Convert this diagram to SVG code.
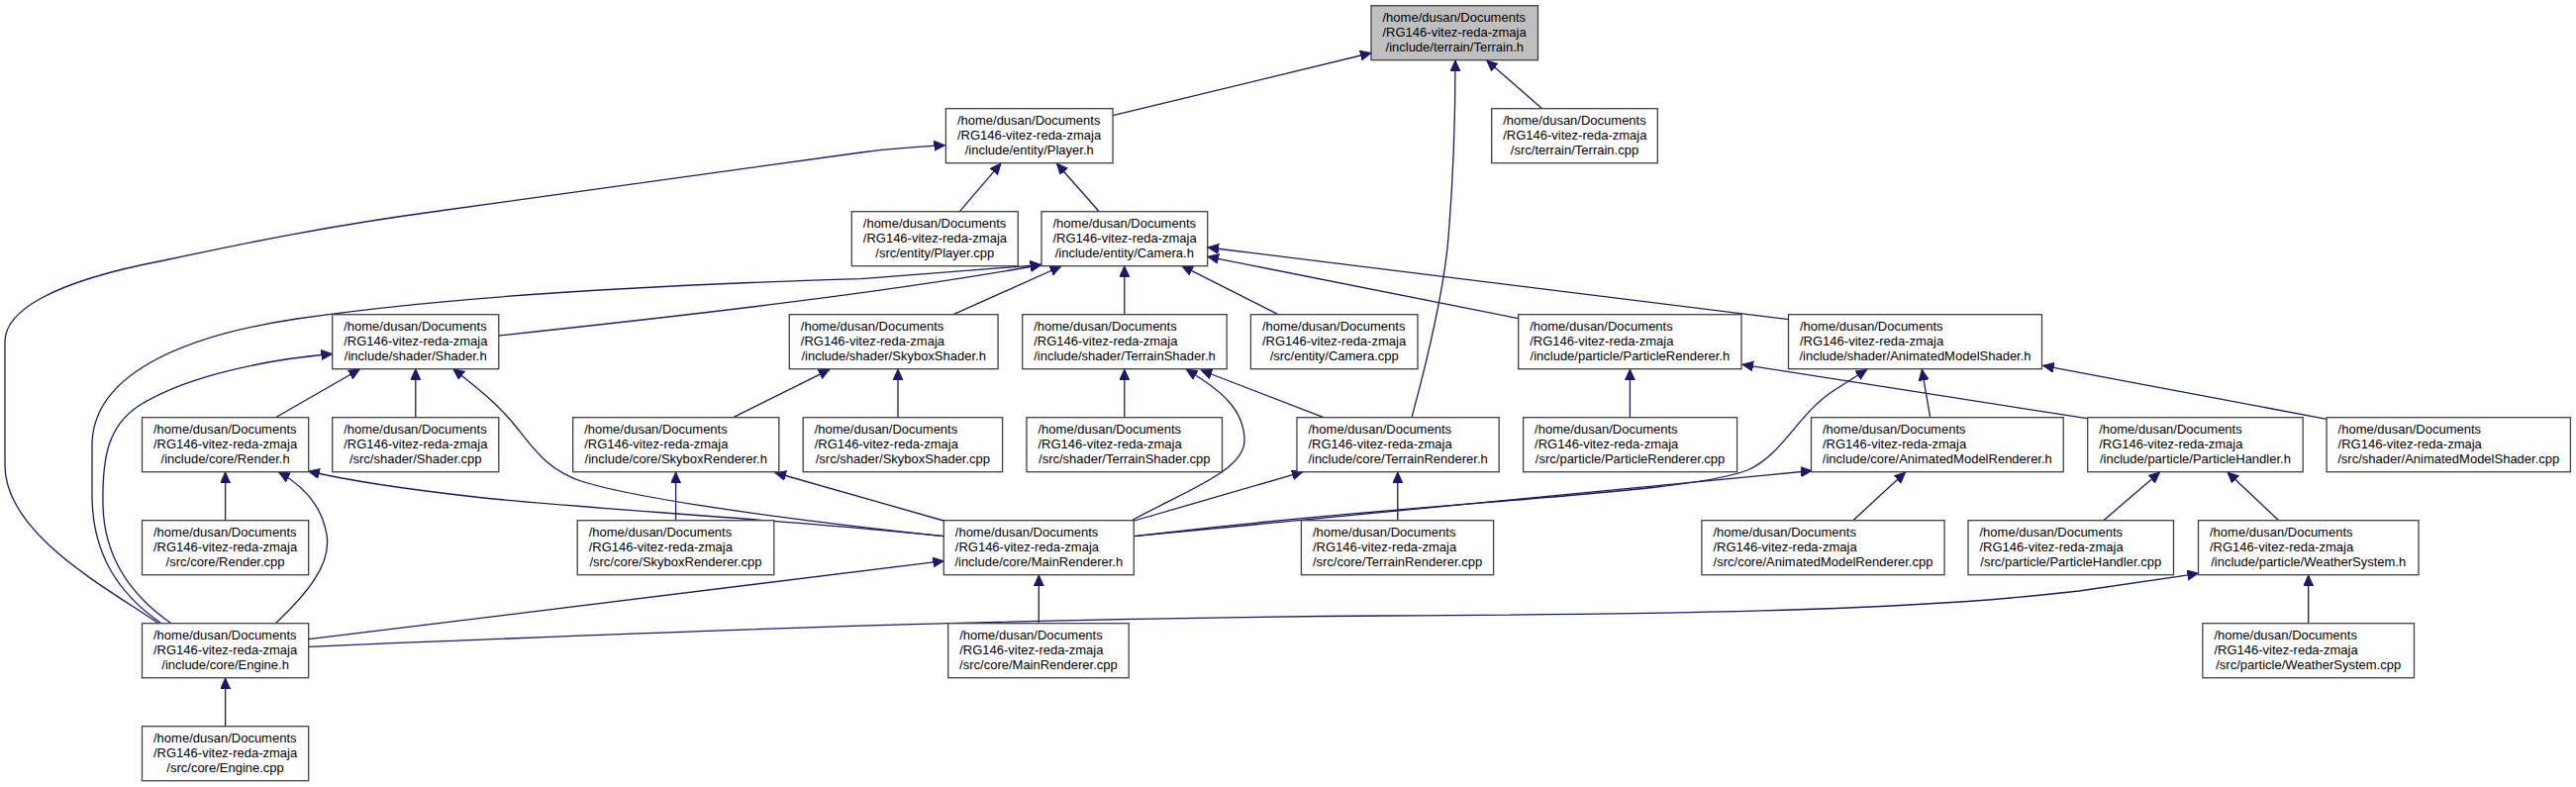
<svg xmlns="http://www.w3.org/2000/svg" width="2602" height="795" viewBox="0 0 2602 795">
<style>
.n rect{fill:#ffffff;stroke:#404040;stroke-width:1.3}
.n.root rect{fill:#bfbfbf}
.n text{font-family:"Liberation Sans",Arial,Helvetica,sans-serif;font-size:13px;fill:#000000}
.n text.c{text-anchor:middle}
#edges path{fill:none;stroke:#191970;stroke-width:1.3;marker-end:url(#ah)}
</style>
<defs>
<marker id="ah" markerUnits="userSpaceOnUse" markerWidth="12" markerHeight="11" refX="11" refY="5" orient="auto">
<path d="M0,0 L11,5 L0,10 Z" fill="#191970" stroke="#191970" stroke-width="1"/>
</marker>
</defs>
<rect x="0" y="0" width="2602" height="795" fill="#ffffff"/>
<g id="edges">
<path d="M1124.1,116.7 L1385,53.5"/>
<path d="M1557.7,109.7 L1501.7,61"/>
<path d="M1426,421.7 C1440,370 1458,300 1463,240 C1468,180 1470,120 1470,61"/>
<path d="M969.3,213.7 L1010.9,165.2"/>
<path d="M1110.2,213.7 L1067.5,165.2"/>
<path d="M160,629.7 C110,595 5,540 5,470 L5,345 C5,315 50,285 166,263 C250,245 333,228 444,213 L870,154 C900,150 930,148 954.5,146.7"/>
<path d="M163,629.7 C120,600 93,560 93,500 L93,450 C93,380 180,340 300,322 C450,300 650,288 870,281.7 L1051.7,267.5"/>
<path d="M173,629.7 C130,600 105,560 104,510 C103,460 110,430 140,410 C180,385 250,365 335.5,357.5"/>
<path d="M503.8,339 C700,318 900,295 1051.7,267.5"/>
<path d="M963,317.7 L1071.7,269"/>
<path d="M1135.8,317.7 L1135.8,268.7"/>
<path d="M1291,317.7 L1194,268.7"/>
<path d="M1533.6,321.7 L1220,259.3"/>
<path d="M1806.7,322.7 L1220,250"/>
<path d="M278.3,421.7 L363.3,373"/>
<path d="M419.8,421.7 L419.8,372.7"/>
<path d="M953.3,541.7 C800,525 650,505 590,487 C555,476 540,455 522,432 C505,410 480,390 457.8,372.7"/>
<path d="M953.3,541.7 C800,525 600,515 480,502 C400,493 350,485 311.7,476"/>
<path d="M227.6,525.7 L227.6,477"/>
<path d="M278.3,629.7 C310,600 335,570 330,540 C325,510 305,490 281.7,477"/>
<path d="M227.6,733.7 L227.6,685"/>
<path d="M311.8,645.7 L953.3,566.7"/>
<path d="M311.8,653.3 C700,637 1000,625 1400,622 C1750,620 1950,615 2100,597 L2220.5,579.3"/>
<path d="M1049.3,629.7 L1049.3,581"/>
<path d="M953.3,526 L783,477.5"/>
<path d="M682.6,525.7 L682.6,477"/>
<path d="M740.7,421.7 L837.8,373.3"/>
<path d="M907,421.7 L907,373"/>
<path d="M1143,525.7 C1200,495 1257,475 1257,445 C1257,415 1235,395 1198.3,373.3"/>
<path d="M1337,421.7 L1213.3,374"/>
<path d="M1135.8,421.7 L1135.8,373"/>
<path d="M1145.7,526 L1316,476.7"/>
<path d="M1411.8,525.7 L1411.8,477"/>
<path d="M1646.4,421.7 L1646.4,373"/>
<path d="M2108,422.7 L1760,368.3"/>
<path d="M2350,423.3 L2063.7,369.3"/>
<path d="M1949.7,421.7 L1941.3,373.3"/>
<path d="M1145.7,541.7 C1450,505 1700,500 1765,475 C1800,460 1815,420 1850,396 L1885.7,373.3"/>
<path d="M1145.7,541.7 L1830,475.5"/>
<path d="M1871.8,525.7 L1924.6,477"/>
<path d="M2124.8,525.7 L2181.6,477"/>
<path d="M2301.7,525.7 L2250,477"/>
<path d="M2331.7,629.7 L2331.7,581"/>
</g>
<g id="terrain_h" class="n root"><rect x="1385" y="5.7" width="168.5" height="55"/><text x="1396.5" y="22.2">/home/dusan/Documents</text><text x="1396.5" y="36.9">/RG146-vitez-reda-zmaja</text><text class="c" x="1469.25" y="51.5">/include/terrain/Terrain.h</text></g>
<g id="player_h" class="n"><rect x="955.4" y="109.7" width="168.7" height="55"/><text x="966.9" y="126.2">/home/dusan/Documents</text><text x="966.9" y="140.9">/RG146-vitez-reda-zmaja</text><text class="c" x="1039.75" y="155.5">/include/entity/Player.h</text></g>
<g id="terrain_cpp" class="n"><rect x="1506.7" y="109.7" width="167.6" height="55"/><text x="1518.2" y="126.2">/home/dusan/Documents</text><text x="1518.2" y="140.9">/RG146-vitez-reda-zmaja</text><text class="c" x="1590.5" y="155.5">/src/terrain/Terrain.cpp</text></g>
<g id="player_cpp" class="n"><rect x="860.3" y="213.7" width="168" height="55"/><text x="871.8" y="230.2">/home/dusan/Documents</text><text x="871.8" y="244.9">/RG146-vitez-reda-zmaja</text><text class="c" x="944.3" y="259.5">/src/entity/Player.cpp</text></g>
<g id="camera_h" class="n"><rect x="1052" y="213.7" width="167.7" height="55"/><text x="1063.5" y="230.2">/home/dusan/Documents</text><text x="1063.5" y="244.9">/RG146-vitez-reda-zmaja</text><text class="c" x="1135.85" y="259.5">/include/entity/Camera.h</text></g>
<g id="shader_h" class="n"><rect x="335.7" y="317.7" width="168.1" height="55"/><text x="347.2" y="334.2">/home/dusan/Documents</text><text x="347.2" y="348.9">/RG146-vitez-reda-zmaja</text><text class="c" x="419.75" y="363.5">/include/shader/Shader.h</text></g>
<g id="skyboxshader_h" class="n"><rect x="797.3" y="317.7" width="210.8" height="55"/><text x="808.8" y="334.2">/home/dusan/Documents</text><text x="808.8" y="348.9">/RG146-vitez-reda-zmaja</text><text class="c" x="902.7" y="363.5">/include/shader/SkyboxShader.h</text></g>
<g id="terrainshader_h" class="n"><rect x="1032.7" y="317.7" width="206.5" height="55"/><text x="1044.2" y="334.2">/home/dusan/Documents</text><text x="1044.2" y="348.9">/RG146-vitez-reda-zmaja</text><text class="c" x="1135.95" y="363.5">/include/shader/TerrainShader.h</text></g>
<g id="camera_cpp" class="n"><rect x="1263.4" y="317.7" width="168.6" height="55"/><text x="1274.9" y="334.2">/home/dusan/Documents</text><text x="1274.9" y="348.9">/RG146-vitez-reda-zmaja</text><text class="c" x="1347.7" y="363.5">/src/entity/Camera.cpp</text></g>
<g id="particlerenderer_h" class="n"><rect x="1533.7" y="317.7" width="225.3" height="55"/><text x="1545.2" y="334.2">/home/dusan/Documents</text><text x="1545.2" y="348.9">/RG146-vitez-reda-zmaja</text><text class="c" x="1646.35" y="363.5">/include/particle/ParticleRenderer.h</text></g>
<g id="animatedmodelshader_h" class="n"><rect x="1806.5" y="317.7" width="256" height="55"/><text x="1818" y="334.2">/home/dusan/Documents</text><text x="1818" y="348.9">/RG146-vitez-reda-zmaja</text><text class="c" x="1934.5" y="363.5">/include/shader/AnimatedModelShader.h</text></g>
<g id="render_h" class="n"><rect x="143.5" y="421.7" width="168.2" height="55"/><text x="155" y="438.2">/home/dusan/Documents</text><text x="155" y="452.9">/RG146-vitez-reda-zmaja</text><text class="c" x="227.6" y="467.5">/include/core/Render.h</text></g>
<g id="shader_cpp" class="n"><rect x="335.7" y="421.7" width="168.1" height="55"/><text x="347.2" y="438.2">/home/dusan/Documents</text><text x="347.2" y="452.9">/RG146-vitez-reda-zmaja</text><text class="c" x="419.75" y="467.5">/src/shader/Shader.cpp</text></g>
<g id="skyboxrenderer_h" class="n"><rect x="578.7" y="421.7" width="208.1" height="55"/><text x="590.2" y="438.2">/home/dusan/Documents</text><text x="590.2" y="452.9">/RG146-vitez-reda-zmaja</text><text class="c" x="682.75" y="467.5">/include/core/SkyboxRenderer.h</text></g>
<g id="skyboxshader_cpp" class="n"><rect x="811.2" y="421.7" width="201.4" height="55"/><text x="822.7" y="438.2">/home/dusan/Documents</text><text x="822.7" y="452.9">/RG146-vitez-reda-zmaja</text><text class="c" x="911.9" y="467.5">/src/shader/SkyboxShader.cpp</text></g>
<g id="terrainshader_cpp" class="n"><rect x="1037" y="421.7" width="197.5" height="55"/><text x="1048.5" y="438.2">/home/dusan/Documents</text><text x="1048.5" y="452.9">/RG146-vitez-reda-zmaja</text><text class="c" x="1135.75" y="467.5">/src/shader/TerrainShader.cpp</text></g>
<g id="terrainrenderer_h" class="n"><rect x="1310" y="421.7" width="204.2" height="55"/><text x="1321.5" y="438.2">/home/dusan/Documents</text><text x="1321.5" y="452.9">/RG146-vitez-reda-zmaja</text><text class="c" x="1412.1" y="467.5">/include/core/TerrainRenderer.h</text></g>
<g id="particlerenderer_cpp" class="n"><rect x="1538.6" y="421.7" width="216" height="55"/><text x="1550.1" y="438.2">/home/dusan/Documents</text><text x="1550.1" y="452.9">/RG146-vitez-reda-zmaja</text><text class="c" x="1646.6" y="467.5">/src/particle/ParticleRenderer.cpp</text></g>
<g id="animatedmodelrenderer_h" class="n"><rect x="1829.5" y="421.7" width="254.7" height="55"/><text x="1841" y="438.2">/home/dusan/Documents</text><text x="1841" y="452.9">/RG146-vitez-reda-zmaja</text><text class="c" x="1956.85" y="467.5">/include/core/AnimatedModelRenderer.h</text></g>
<g id="particlehandler_h" class="n"><rect x="2108.7" y="421.7" width="217.5" height="55"/><text x="2120.2" y="438.2">/home/dusan/Documents</text><text x="2120.2" y="452.9">/RG146-vitez-reda-zmaja</text><text class="c" x="2217.45" y="467.5">/include/particle/ParticleHandler.h</text></g>
<g id="animatedmodelshader_cpp" class="n"><rect x="2350.1" y="421.7" width="246.3" height="55"/><text x="2361.6" y="438.2">/home/dusan/Documents</text><text x="2361.6" y="452.9">/RG146-vitez-reda-zmaja</text><text class="c" x="2473.25" y="467.5">/src/shader/AnimatedModelShader.cpp</text></g>
<g id="render_cpp" class="n"><rect x="143.5" y="525.7" width="168.2" height="55"/><text x="155" y="542.2">/home/dusan/Documents</text><text x="155" y="556.9">/RG146-vitez-reda-zmaja</text><text class="c" x="227.6" y="571.5">/src/core/Render.cpp</text></g>
<g id="skyboxrenderer_cpp" class="n"><rect x="583.2" y="525.7" width="198.6" height="55"/><text x="594.7" y="542.2">/home/dusan/Documents</text><text x="594.7" y="556.9">/RG146-vitez-reda-zmaja</text><text class="c" x="682.5" y="571.5">/src/core/SkyboxRenderer.cpp</text></g>
<g id="mainrenderer_h" class="n"><rect x="953.3" y="525.7" width="192" height="55"/><text x="964.8" y="542.2">/home/dusan/Documents</text><text x="964.8" y="556.9">/RG146-vitez-reda-zmaja</text><text class="c" x="1049.3" y="571.5">/include/core/MainRenderer.h</text></g>
<g id="terrainrenderer_cpp" class="n"><rect x="1314.4" y="525.7" width="194.2" height="55"/><text x="1325.9" y="542.2">/home/dusan/Documents</text><text x="1325.9" y="556.9">/RG146-vitez-reda-zmaja</text><text class="c" x="1411.5" y="571.5">/src/core/TerrainRenderer.cpp</text></g>
<g id="animatedmodelrenderer_cpp" class="n"><rect x="1718.9" y="525.7" width="245.2" height="55"/><text x="1730.4" y="542.2">/home/dusan/Documents</text><text x="1730.4" y="556.9">/RG146-vitez-reda-zmaja</text><text class="c" x="1841.5" y="571.5">/src/core/AnimatedModelRenderer.cpp</text></g>
<g id="particlehandler_cpp" class="n"><rect x="1988" y="525.7" width="207.5" height="55"/><text x="1999.5" y="542.2">/home/dusan/Documents</text><text x="1999.5" y="556.9">/RG146-vitez-reda-zmaja</text><text class="c" x="2091.75" y="571.5">/src/particle/ParticleHandler.cpp</text></g>
<g id="weathersystem_h" class="n"><rect x="2220.5" y="525.7" width="222.5" height="55"/><text x="2232" y="542.2">/home/dusan/Documents</text><text x="2232" y="556.9">/RG146-vitez-reda-zmaja</text><text class="c" x="2331.75" y="571.5">/include/particle/WeatherSystem.h</text></g>
<g id="engine_h" class="n"><rect x="143.5" y="629.7" width="168.2" height="55"/><text x="155" y="646.2">/home/dusan/Documents</text><text x="155" y="660.9">/RG146-vitez-reda-zmaja</text><text class="c" x="227.6" y="675.5">/include/core/Engine.h</text></g>
<g id="mainrenderer_cpp" class="n"><rect x="957.7" y="629.7" width="182.5" height="55"/><text x="969.2" y="646.2">/home/dusan/Documents</text><text x="969.2" y="660.9">/RG146-vitez-reda-zmaja</text><text class="c" x="1048.95" y="675.5">/src/core/MainRenderer.cpp</text></g>
<g id="weathersystem_cpp" class="n"><rect x="2224.9" y="629.7" width="213.6" height="55"/><text x="2236.4" y="646.2">/home/dusan/Documents</text><text x="2236.4" y="660.9">/RG146-vitez-reda-zmaja</text><text class="c" x="2331.7" y="675.5">/src/particle/WeatherSystem.cpp</text></g>
<g id="engine_cpp" class="n"><rect x="143.5" y="733.7" width="168.2" height="55"/><text x="155" y="750.2">/home/dusan/Documents</text><text x="155" y="764.9">/RG146-vitez-reda-zmaja</text><text class="c" x="227.6" y="779.5">/src/core/Engine.cpp</text></g>
</svg>
